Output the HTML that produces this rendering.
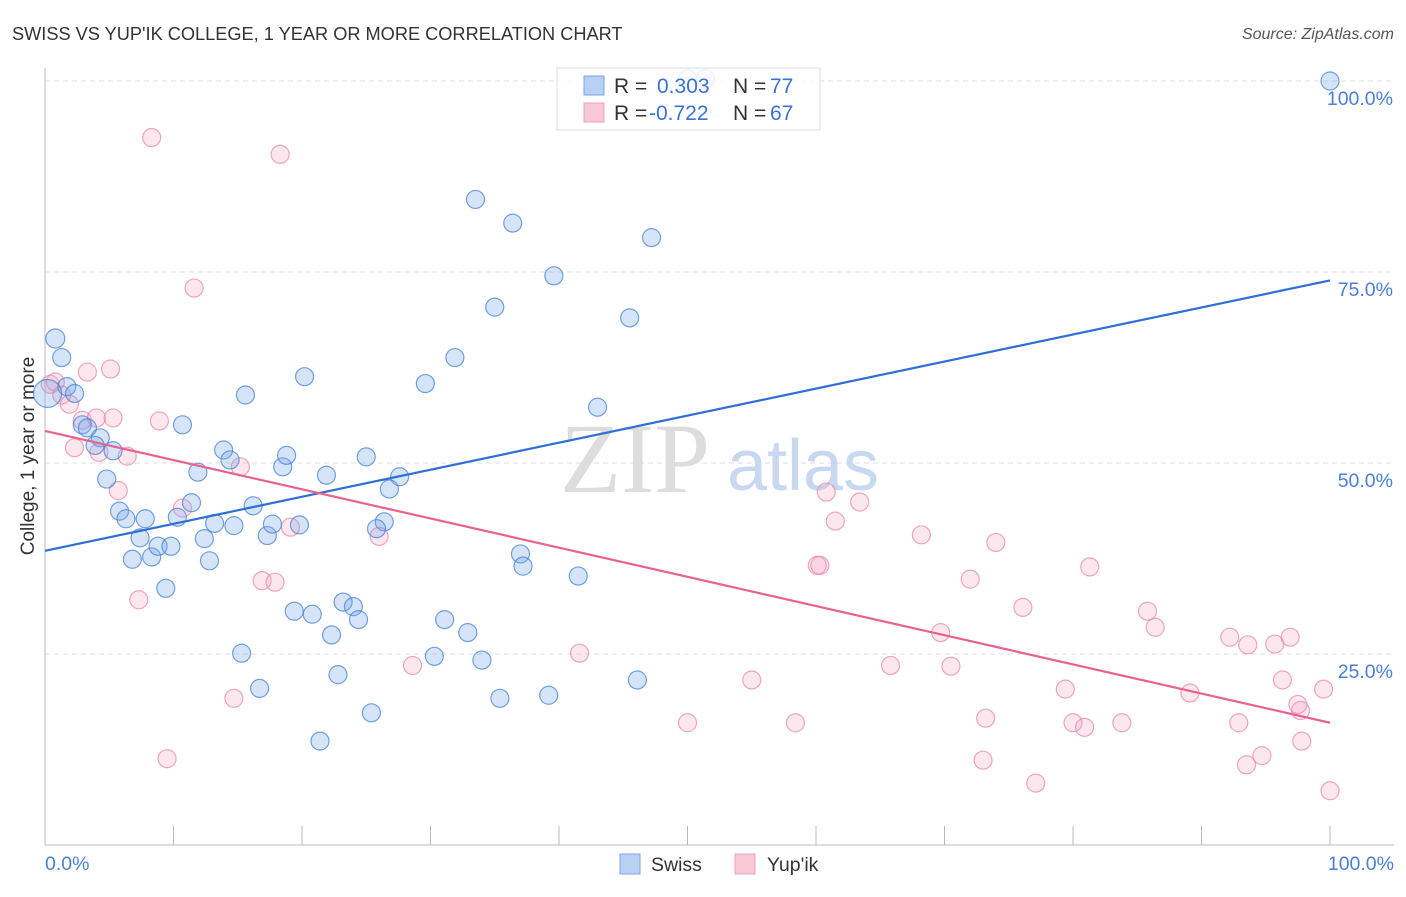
<!DOCTYPE html>
<html><head><meta charset="utf-8"><style>
body{margin:0;background:#fff;font-family:"Liberation Sans",sans-serif;}
svg text{font-family:"Liberation Sans",sans-serif;}
svg text.serif{font-family:"Liberation Serif",serif;}
</style></head><body>
<svg width="1406" height="892" xmlns="http://www.w3.org/2000/svg">
<text x="12" y="40" font-size="18.2" fill="#333">SWISS VS YUP'IK COLLEGE, 1 YEAR OR MORE CORRELATION CHART</text>
<text x="1394" y="39" font-size="16" fill="#555" font-style="italic" text-anchor="end">Source: ZipAtlas.com</text>
<g id="grid"></g>
<text class="serif" x="635" y="492" font-size="100" fill="#ddd" text-anchor="middle">ZIP</text>
<text x="803" y="490" font-size="72" fill="#c8d8f0" text-anchor="middle">atlas</text>
<line x1="45" y1="68" x2="45" y2="845" stroke="#bbb"/>
<line x1="45" y1="845" x2="1394" y2="845" stroke="#bbb"/>
<g id="ticks"></g>
<text x="34" y="456" font-size="19" fill="#333" text-anchor="middle" transform="rotate(-90 34 456)">College, 1 year or more</text>
<text x="45" y="870" font-size="19.5" fill="#4a7fd6">0.0%</text>
<text x="1394" y="870" font-size="19.5" fill="#4a7fd6" text-anchor="end">100.0%</text>
<g id="pts"></g>
<g id="lines"></g>
<g>
<rect x="557" y="68" width="263" height="62" fill="#fff" fill-opacity="0.85" stroke="#ddd"/>
<rect x="584" y="76" width="20" height="19" fill="#b8d0f4" stroke="#7aa4e4"/>
<rect x="584" y="103" width="20" height="19" fill="#f9c8d6" stroke="#f0a0b8"/>
<text x="614" y="93" font-size="21" fill="#333">R = </text><text x="657" y="93" font-size="21" fill="#3a72d0">0.303</text>
<text x="733" y="93" font-size="21" fill="#333">N = </text><text x="770" y="93" font-size="21" fill="#3a72d0">77</text>
<text x="614" y="120" font-size="21" fill="#333">R = </text><text x="649" y="120" font-size="21" fill="#3a72d0">-0.722</text>
<text x="733" y="120" font-size="21" fill="#333">N = </text><text x="770" y="120" font-size="21" fill="#3a72d0">67</text>
</g>
<g>
<rect x="620" y="854" width="20" height="20" fill="#b8d0f4" stroke="#7aa4e4"/>
<text x="651" y="871" font-size="19.5" fill="#333">Swiss</text>
<rect x="735" y="854" width="20" height="20" fill="#f9c8d6" stroke="#f0a0b8"/>
<text x="767" y="871" font-size="19.5" fill="#333">Yup'ik</text>
</g>
</svg>
<script>
const yTicks=[25,50,75,100];
const yTickLabels=["25.0%","50.0%","75.0%","100.0%"];
const swissX=[0.8,1.3,1.7,2.3,0.2,2.9,3.3,4.3,3.9,5.3,4.8,5.8,6.3,7.8,7.4,6.8,8.3,8.8,9.8,9.4,10.3,11.4,10.7,11.9,13.9,14.4,13.2,12.4,12.8,14.7,15.6,16.2,17.3,17.7,18.5,18.8,19.8,20.2,21.9,25,27.6,26.8,26.4,25.8,19.4,20.8,23.2,24,24.4,22.3,15.3,16.7,22.8,25.4,21.4,29.6,31.9,33.5,36.4,35,39.6,47.2,45.5,43,37,37.2,41.5,31.1,32.9,30.3,34,35.4,39.2,46.1,100,50,51.4];
const swissY=[66.3,63.8,60,59.1,59.1,55,54.6,53.3,52.3,51.6,47.9,43.7,42.7,42.7,40.2,37.4,37.7,39.1,39.1,33.6,42.9,44.8,55,48.8,51.7,50.4,42.1,40.1,37.2,41.8,58.9,44.4,40.5,42,49.5,51,41.9,61.3,48.4,50.8,48.2,46.6,42.3,41.4,30.6,30.2,31.8,31.2,29.5,27.5,25.1,20.5,22.3,17.3,13.6,60.4,63.8,84.5,81.4,70.4,74.5,79.5,69,57.3,38.1,36.5,35.2,29.5,27.8,24.7,24.2,19.2,19.6,21.6,100,100.3,100.3];
const yupikX=[0.4,0.8,1.3,1.9,3.3,5.1,2.9,4,5.3,4.2,2.3,6.4,5.7,8.9,8.3,18.3,11.6,10.7,15.2,7.3,9.5,14.7,16.9,17.9,19.1,26,28.6,41.6,50,55,58.4,60.1,60.3,60.8,61.5,63.4,65.8,68.2,69.7,70.5,72,73.2,73,74,76.1,77.1,79.4,80,80.9,81.3,83.8,85.8,86.4,89.1,92.2,92.9,93.6,93.5,94.7,95.7,96.3,96.9,97.7,97.5,97.8,99.5,100];
const yupikY=[60.3,60.6,58.9,57.7,61.9,62.3,55.6,55.9,55.9,51.4,52,50.9,46.4,55.5,92.6,90.4,72.9,44.1,49.5,32.1,11.3,19.2,34.6,34.4,41.6,40.4,23.5,25.1,16,21.6,16,36.6,36.6,46.2,42.4,44.9,23.5,40.6,27.8,23.4,34.8,16.6,11.1,39.6,31.1,8.1,20.4,16,15.4,36.4,16,30.6,28.5,19.9,27.2,16,26.2,10.5,11.7,26.3,21.6,27.2,17.6,18.4,13.6,20.4,7.1];
const swissLine=[38.5,73.9];
const yupikLine=[54.2,16];
const NS="http://www.w3.org/2000/svg";
const X=v=>45+v*12.85, Y=v=>845-v*7.64;
const grid=document.getElementById('grid');
yTicks.forEach((t,i)=>{
 const l=document.createElementNS(NS,'line');
 l.setAttribute('x1',45);l.setAttribute('x2',1394);l.setAttribute('y1',Y(t));l.setAttribute('y2',Y(t));
 l.setAttribute('stroke','#ddd');l.setAttribute('stroke-dasharray','5,4');
 
 
 grid.appendChild(l);
 const tx=document.createElementNS(NS,'text');
 tx.setAttribute('x',1393);tx.setAttribute('y',Y(t)+24);tx.setAttribute('font-size',19.5);tx.setAttribute('fill','#4a7fd6');tx.setAttribute('text-anchor','end');
 tx.textContent=yTickLabels[i];
 
 
 grid.appendChild(tx);
});
const ticks=document.getElementById('ticks');
for(let i=0;i<=10;i++){
 const l=document.createElementNS(NS,'line');
 l.setAttribute('x1',X(i*10));l.setAttribute('x2',X(i*10));l.setAttribute('y1',826);l.setAttribute('y2',845);l.setAttribute('stroke','#bbb');
 
 
 ticks.appendChild(l);
}
const pts=document.getElementById('pts');
function dots(xs,ys,fill,stroke,name){
 xs.forEach((x,i)=>{
  const c=document.createElementNS(NS,'circle');
  c.setAttribute('cx',X(x));c.setAttribute('cy',Y(ys[i]));c.setAttribute('r',(name==='swiss-point'&&i==4)?14:(name==='swiss-point'&&i==0?9.5:9));
  c.setAttribute('fill',fill);c.setAttribute('stroke',stroke);c.setAttribute('stroke-width',1.2);
  
  
  pts.appendChild(c);
 });
}
dots(yupikX,yupikY,'rgba(245,160,190,0.25)','rgba(232,130,165,0.7)','yupik-point');
dots(swissX,swissY,'rgba(120,165,235,0.3)','rgba(70,130,215,0.75)','swiss-point');
const lines=document.getElementById('lines');
function tl(v,col,name){
 const l=document.createElementNS(NS,'line');
 l.setAttribute('x1',X(0));l.setAttribute('x2',X(100));l.setAttribute('y1',Y(v[0]));l.setAttribute('y2',Y(v[1]));
 l.setAttribute('stroke',col);l.setAttribute('stroke-width',2.2);
 
 
 lines.appendChild(l);
}
tl(swissLine,'#2e6fd6','swiss-trend-line');
tl(yupikLine,'#e8628e','yupik-trend-line');
</script>
</body></html>
